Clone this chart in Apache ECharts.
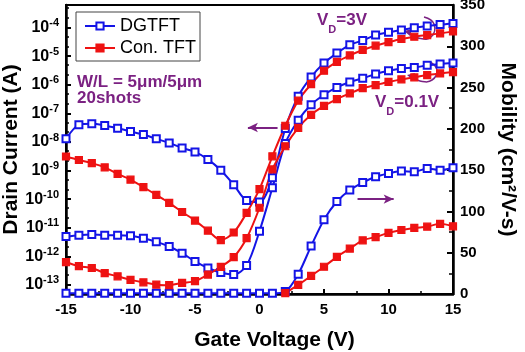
<!DOCTYPE html>
<html>
<head>
<meta charset="utf-8">
<script src="https://cdn.jsdelivr.net/npm/echarts@6/dist/echarts.min.js"></script>
<style>
html,body{margin:0;padding:0;background:#fff}
#main{width:525px;height:352px}
</style>
</head>
<body>
<div id="main"></div>
<script>
var FONT = '"Liberation Sans", Arial, sans-serif';
var BLUE = '#1414e6', RED = '#ee1212', PURPLE = '#7b2182';

var gateV = [-15,-14,-13,-12,-11,-10,-9,-8,-7,-6,-5,-4,-3,-2,-1,0,1,2,3,4,5,6,7,8,9,10,11,12,13,14,15];

// drain current (A), VD = 3V
var dgDrain3 = [1.29e-8,3.98e-8,4.37e-8,3.80e-8,3.02e-8,2.34e-8,1.82e-8,1.29e-8,9.3e-9,6.2e-9,4.5e-9,2.45e-9,1.02e-9,3.2e-10,8.9e-11,
  7.9e-11,5.6e-10,2.95e-8,4.0e-7,1.86e-6,5.75e-6,1.29e-5,2.51e-5,3.55e-5,5.5e-5,6.9e-5,8.3e-5,1.0e-4,1.15e-4,1.29e-4,1.41e-4];
var conDrain3 = [3.1e-9,2.34e-9,1.82e-9,1.29e-9,7.6e-10,4.8e-10,2.63e-10,1.41e-10,7.4e-11,3.55e-11,1.78e-11,7.9e-12,3.7e-12,6.8e-12,3.3e-11,
  2.24e-10,3.16e-9,3.7e-8,2.8e-7,1.05e-6,3.1e-6,6.3e-6,1.07e-5,1.66e-5,2.34e-5,3.1e-5,4.0e-5,4.8e-5,5.5e-5,6.3e-5,7.4e-5];

// drain current (A), VD = 0.1V
var dgDrain01 = [4.9e-12,5.5e-12,5.75e-12,5.5e-12,5.5e-12,5.2e-12,4.3e-12,3.2e-12,2.2e-12,1.29e-12,6.6e-13,3.9e-13,2.7e-13,2.3e-13,4.8e-13,
  7.6e-12,2.5e-10,8.9e-9,5.75e-8,2.0e-7,4.5e-7,8.1e-7,1.26e-6,1.7e-6,2.4e-6,3.1e-6,3.7e-6,4.0e-6,4.8e-6,5.4e-6,5.75e-6];
var conDrain01 = [6.3e-13,4.5e-13,3.9e-13,2.6e-13,2.0e-13,1.5e-13,1.23e-13,1.02e-13,9.8e-14,1.17e-13,1.35e-13,2.3e-13,4.3e-13,9.3e-13,4.3e-12,
  5.0e-11,1.1e-9,7.1e-9,3.1e-8,8.9e-8,1.82e-7,3.16e-7,5.0e-7,7.6e-7,9.8e-7,1.26e-6,1.55e-6,1.82e-6,2.2e-6,2.5e-6,2.8e-6];

// mobility (cm2/V-s)
var dgMob = [1,1,1,1,1,1,1,1,1,1,1,1,1,1,1,1,1,3,24,58,90,112,126,135,142,146,149,148,152,150,153];
var conMob = [null,null,null,null,null,null,null,null,null,null,null,null,null,null,null,null,null,1,11,22,33,45,55,65,69,74,77.5,80,81.5,85,82];

// log axis ticks (decades) and the small ticks between them
var currentTicks = [1e-13,1e-12,1e-11,1e-10,1e-9,1e-8,1e-7,1e-6,1e-5,1e-4];
var currentMinorTicks = [2.2e-13,4.9e-13,2.2e-12,4.9e-12,2.2e-11,4.9e-11,2.2e-10,4.9e-10,2.2e-9,4.9e-9,
  2.2e-8,4.9e-8,2.2e-7,4.9e-7,2.2e-6,4.9e-6,2.2e-5,4.9e-5,2.2e-4,4.9e-4];

function pairs(ys){
  var out = [];
  for (var i = 0; i < gateV.length; i++) {
    if (ys[i] != null) out.push([gateV[i], ys[i]]);
  }
  return out;
}

function mkSeries(name, ys, axis, color, symbol, extra){
  var s = {
    name: name, type: 'line', yAxisIndex: axis, data: pairs(ys),
    smooth: 0.3, symbol: symbol, symbolSize: 7, showSymbol: true,
    lineStyle: {color: color, width: 2},
    itemStyle: {color: color, borderColor: color, borderWidth: 1.2},
    emphasis: {disabled: true}, animation: false
  };
  for (var k in extra) s[k] = extra[k];
  return s;
}

var arrowLine = {
  silent: true, symbolSize: [7, 10], label: {show: false},
  lineStyle: {color: PURPLE, width: 2, type: 'solid'}
};

var leftArrow = Object.assign({}, arrowLine, {
  symbol: ['arrow', 'none'],
  data: [[{coord: [-0.9, 3.2e-8]}, {coord: [1.4, 3.2e-8]}]]
});
var rightArrow = Object.assign({}, arrowLine, {
  symbol: ['none', 'arrow'],
  data: [[{coord: [7.6, 115]}, {coord: [10.4, 115]}]]
});

var chart = echarts.init(document.getElementById('main'), null, {renderer: 'canvas'});

var curMin = 4.8e-14, curMax = 6.2e-4;

var option = {
  backgroundColor: '#fff',
  animation: false,
  textStyle: {fontFamily: FONT},
  grid: {left: 66, right: 72, top: 5, bottom: 58, show: true, borderColor: '#000', borderWidth: 2, outerBoundsMode: 'none'},
  legend: {
    data: ['DGTFT', 'Con. TFT'], orient: 'vertical', left: 76, top: 12,
    padding: [5, 4, 4, 8], itemGap: 4, itemWidth: 30, itemHeight: 9,
    borderColor: '#444', borderWidth: 1, backgroundColor: '#fff',
    textStyle: {fontSize: 18, color: '#000', fontFamily: FONT}
  },
  xAxis: {
    type: 'value', min: -15, max: 15, interval: 5,
    name: 'Gate Voltage (V)', nameLocation: 'middle', nameGap: 36, nameMoveOverlap: false,
    nameTextStyle: {fontSize: 21, fontWeight: 'bold', color: '#000', padding: [0, 0, 0, 30]},
    axisLine: {onZero: false, lineStyle: {color: '#000', width: 2.5}},
    axisTick: {inside: true, length: 5, lineStyle: {color: '#000', width: 2}},
    minorTick: {show: true, splitNumber: 2, length: 3, lineStyle: {color: '#000', width: 1.5}},
    splitLine: {show: false},
    axisLabel: {fontSize: 15, fontWeight: 'bold', color: '#000', margin: 8}
  },
  yAxis: [{
    type: 'log', logBase: 10, min: curMin, max: curMax,
    name: 'Drain Current (A)', nameLocation: 'middle', nameGap: 44, nameMoveOverlap: false,
    nameTextStyle: {fontSize: 21, fontWeight: 'bold', color: '#000', padding: [0, 0, 0, 0]},
    axisLine: {show: true, onZero: false, lineStyle: {color: '#000', width: 2.5}},
    axisTick: {inside: true, length: 5, customValues: currentTicks, lineStyle: {color: '#000', width: 2}},
    minorTick: {show: false},
    splitLine: {show: false},
    axisLabel: {
      margin: 7, color: '#000', fontSize: 16, fontWeight: 'bold', customValues: currentTicks,
      formatter: function(v){
        var e = Math.round(Math.log10(v));
        return '{b|10}{s|' + e + '}';
      },
      rich: {
        b: {fontSize: 16, fontWeight: 'bold', color: '#000', lineHeight: 20, fontFamily: FONT},
        s: {fontSize: 11, fontWeight: 'bold', color: '#000', lineHeight: 11, verticalAlign: 'top', fontFamily: FONT}
      }
    }
  }, {
    type: 'value', position: 'right', min: 0, max: 350, interval: 50,
    name: 'Mobility (cm\u00b2/V-s)', nameLocation: 'middle', nameGap: 44, nameRotate: -90, nameMoveOverlap: false,
    nameTextStyle: {fontSize: 21, fontWeight: 'bold', color: '#000'},
    axisLine: {show: true, onZero: false, lineStyle: {color: '#000', width: 2.5}},
    axisTick: {inside: true, length: 6, lineStyle: {color: '#000', width: 2}},
    minorTick: {show: true, splitNumber: 2, length: 4, lineStyle: {color: '#000', width: 1.5}},
    splitLine: {show: false},
    axisLabel: {fontSize: 15, fontWeight: 'bold', color: '#000', margin: 7}
  }, {
    // only the short ticks of the current axis
    type: 'log', logBase: 10, min: curMin, max: curMax, position: 'left',
    axisLine: {show: false, onZero: false},
    axisTick: {inside: true, length: 3, customValues: currentMinorTicks, lineStyle: {color: '#000', width: 1.5}},
    axisLabel: {show: false},
    splitLine: {show: false}
  }],
  series: [
    mkSeries('DGTFT', dgDrain3, 0, BLUE, 'emptyRect', {markLine: leftArrow}),
    mkSeries('DGTFT', dgDrain01, 0, BLUE, 'emptyRect'),
    mkSeries('DGTFT', dgMob, 1, BLUE, 'emptyRect', {markLine: rightArrow}),
    mkSeries('Con. TFT', conDrain3, 0, RED, 'rect'),
    mkSeries('Con. TFT', conDrain01, 0, RED, 'rect'),
    mkSeries('Con. TFT', conMob, 1, RED, 'rect')
  ],
  graphic: [
    {type: 'text', x: 77, y: 82, silent: true,
     style: {text: 'W/L = 5\u03bcm/5\u03bcm', fill: PURPLE, font: 'bold 17px ' + FONT, verticalAlign: 'middle'}},
    {type: 'text', x: 77, y: 98, silent: true,
     style: {text: '20shots', fill: PURPLE, font: 'bold 17px ' + FONT, verticalAlign: 'middle'}},
    {type: 'text', x: 317, y: 20, silent: true,
     style: {text: '{v|V}{d|D}{v|=3V}', verticalAlign: 'middle',
       rich: {v: {fontSize: 17, fontWeight: 'bold', fill: PURPLE, lineHeight: 30, fontFamily: FONT},
              d: {fontSize: 11, fontWeight: 'bold', fill: PURPLE, lineHeight: 12, verticalAlign: 'bottom', fontFamily: FONT}}}},
    {type: 'text', x: 375, y: 102, silent: true,
     style: {text: '{v|V}{d|D}{v|=0.1V}', verticalAlign: 'middle',
       rich: {v: {fontSize: 17, fontWeight: 'bold', fill: PURPLE, lineHeight: 30, fontFamily: FONT},
              d: {fontSize: 11, fontWeight: 'bold', fill: PURPLE, lineHeight: 12, verticalAlign: 'bottom', fontFamily: FONT}}}},
    {type: 'polyline', silent: true, shape: {points: [[424,17],[434,24],[431,37],[418,38],[409,33]], smooth: 0.5},
     style: {stroke: PURPLE, lineWidth: 1.5, fill: null}},
    {type: 'polygon', silent: true, shape: {points: [[404,31],[412,29],[410,36]]}, style: {fill: PURPLE}},
    {type: 'polyline', silent: true, shape: {points: [[430,62],[437,70],[432,80],[420,81],[412,77]], smooth: 0.5},
     style: {stroke: PURPLE, lineWidth: 1.5, fill: null}},
    {type: 'polygon', silent: true, shape: {points: [[407,75],[415,73],[413,80]]}, style: {fill: PURPLE}}
  ]
};

chart.setOption(option);
</script>
</body>
</html>
